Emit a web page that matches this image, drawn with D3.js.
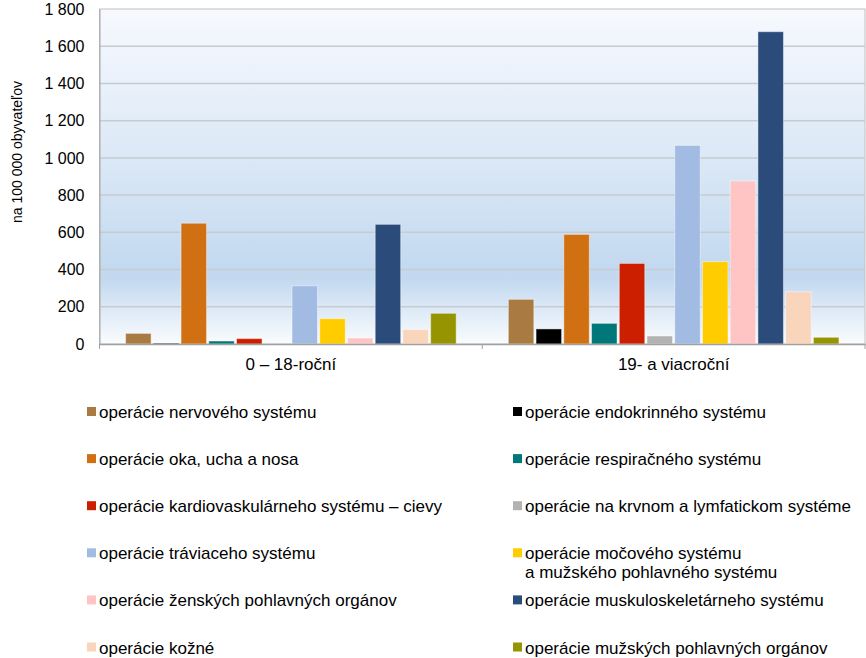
<!DOCTYPE html>
<html>
<head>
<meta charset="utf-8">
<script src="https://cdn.jsdelivr.net/npm/d3@7"></script>
<style>
    body { margin: 0; background: #fff; }
    svg { display: block; font-family: "Liberation Sans", Arial, sans-serif; }
</style>
</head>
<body>
<svg id="chart" width="866" height="658"></svg>
<script>
/* data */
const categories = ["0 – 18-roční", "19- a viacroční"];

const series = [
    "operácie nervového systému",
    "operácie endokrinného systému",
    "operácie oka, ucha a nosa",
    "operácie respiračného systému",
    "operácie kardiovaskulárneho systému – cievy",
    "operácie na krvnom a lymfatickom systéme",
    "operácie tráviaceho systému",
    "operácie močového systému\na mužského pohlavného systému",
    "operácie ženských pohlavných orgánov",
    "operácie muskuloskeletárneho systému",
    "operácie kožné",
    "operácie mužských pohlavných orgánov"
];

const colors = [
    "#a97b42", "#000000", "#d17012", "#00787a", "#cc1f00", "#b2b2b2",
    "#a2bbe3", "#ffcc00", "#ffc4c4", "#2b4c7b", "#f9d5bb", "#969400"
];

const valuesYoung = [57, 4, 649, 16, 29, 3, 313, 136, 32, 643, 77, 165];
const valuesAdult = [240, 81, 589, 111, 433, 43, 1067, 442, 876, 1678, 281, 36];

const yTicks = [0, 200, 400, 600, 800, 1000, 1200, 1400, 1600, 1800];
const yTitle = "na 100 000 obyvateľov";

const svg = d3.select("#chart");
const plot = { left: 99.5, right: 865, top: 9, bottom: 344 };

const x0 = d3.scaleBand()
    .domain(categories)
    .range([plot.left, plot.right]);

const x1 = d3.scaleBand()
    .domain(d3.range(series.length))
    .range([0, x0.bandwidth()])
    .paddingInner(0.08)
    .paddingOuter(0.94);

const y = d3.scaleLinear()
    .domain([0, 1800])
    .range([plot.bottom, plot.top]);

const fmt = d => d3.format(",")(d).replace(",", " ");

// background gradient
const grad = svg.append("defs").append("linearGradient")
    .attr("id", "bg")
    .attr("x1", 0).attr("y1", 0).attr("x2", 0).attr("y2", 1);
[["0%", "#f7f9fe"], ["45%", "#dbe8f6"], ["80%", "#c1d8ef"], ["100%", "#fafcfe"]]
    .forEach(s => grad.append("stop").attr("offset", s[0]).attr("stop-color", s[1]));

svg.append("rect")
    .attr("x", plot.left)
    .attr("y", plot.top)
    .attr("width", plot.right - plot.left)
    .attr("height", plot.bottom - plot.top)
    .attr("fill", "url(#bg)")
    .attr("stroke", "#c0c0c0")
    .attr("stroke-width", 1);

// grid lines
svg.append("g")
    .selectAll("line")
    .data(yTicks.filter(d => d > 0 && d < 1800))
    .join("line")
    .attr("x1", plot.left)
    .attr("x2", plot.right)
    .attr("y1", d => y(d))
    .attr("y2", d => y(d))
    .attr("stroke", "#c6cbd1")
    .attr("stroke-width", 1.5);

// y axis
const yAxis = svg.append("g")
    .attr("transform", `translate(${plot.left},0)`)
    .call(d3.axisLeft(y).tickValues(yTicks).tickFormat(fmt).tickSize(0).tickPadding(15));
yAxis.select(".domain").attr("stroke", "#a6a6a6");
yAxis.selectAll("text").attr("font-size", 16).attr("fill", "#000")
    .style("font-family", "'Liberation Sans', Arial, sans-serif");

svg.append("text")
    .attr("transform", "translate(22,152) rotate(-90)")
    .attr("text-anchor", "middle")
    .attr("font-size", 14)
    .text(yTitle);

// bars
const data = [valuesYoung, valuesAdult];
const groups = svg.append("g")
    .selectAll("g")
    .data(data)
    .join("g")
    .attr("transform", (d, i) => `translate(${x0(categories[i])},0)`);

groups.selectAll("rect")
    .data(d => d)
    .join("rect")
    .attr("x", (d, i) => x1(i))
    .attr("width", x1.bandwidth())
    .attr("y", d => y(d))
    .attr("height", d => y(0) - y(d))
    .attr("fill", (d, i) => colors[i])
    .attr("stroke", "#ffffff")
    .attr("stroke-opacity", 0.45)
    .attr("stroke-width", 1);

// x axis
const xAxis = svg.append("g")
    .attr("transform", `translate(0,${plot.bottom})`)
    .call(d3.axisBottom(x0).tickSize(0).tickPadding(14));
xAxis.select(".domain").attr("stroke", "#a0a0a0").attr("stroke-width", 1.5);
xAxis.selectAll("text").attr("font-size", 17).attr("fill", "#000")
    .style("font-family", "'Liberation Sans', Arial, sans-serif");

// category boundary ticks
svg.append("g")
    .selectAll("line")
    .data([plot.left, x0(categories[1]), plot.right])
    .join("line")
    .attr("x1", d => d).attr("x2", d => d)
    .attr("y1", plot.bottom).attr("y2", plot.bottom + 5)
    .attr("stroke", "#a0a0a0")
    .attr("stroke-width", 1);

// legend
const legendCols = [87, 513];
const legend = svg.append("g")
    .selectAll("g")
    .data(series)
    .join("g")
    .attr("transform", (d, i) => `translate(${legendCols[i % 2]},${418 + Math.floor(i / 2) * 47.1})`);

legend.append("rect")
    .attr("x", 0)
    .attr("y", -11)
    .attr("width", 9)
    .attr("height", 9)
    .attr("fill", (d, i) => colors[i]);

legend.append("text")
    .attr("font-size", 17)
    .selectAll("tspan")
    .data(d => d.split("\n"))
    .join("tspan")
    .attr("x", 12)
    .attr("dy", (d, i) => i === 0 ? 0 : 18.5)
    .text(d => d);
</script>
</body>
</html>
